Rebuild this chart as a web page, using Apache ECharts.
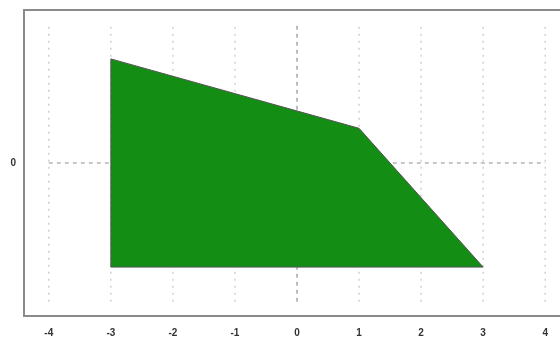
<!DOCTYPE html>
<html>
<head>
<meta charset="utf-8">
<script src="https://cdn.jsdelivr.net/npm/echarts@6/dist/echarts.min.js"></script>
<style>html,body{margin:0;padding:0;background:#fff;overflow:hidden;width:560px;height:338px;}#c{width:580px;height:338px;}</style>
</head>
<body>
<div id="c"></div>
<script>
// Polygon vertices
var polyX = [-3, 1, 3, -3];
var polyY = [3, 1, -3, -3];
// Tick labels
var xTicks = [-4, -3, -2, -1, 0, 1, 2, 3, 4];
var yTicks = [0];
// Grid extent
var gridXMin = -4, gridXMax = 4, gridYMin = -4, gridYMax = 4;
// Axis ranges
var xMin = -4.4, xMax = 4.4, yMin = -4.41, yMax = 4.41;

var chart = echarts.init(document.getElementById('c'), null, {renderer: 'canvas'});

var series = [];
xTicks.forEach(function (t) {
  series.push({
    type: 'line', silent: true, symbol: 'none', z: 1,
    data: [[t, gridYMin], [t, gridYMax]],
    lineStyle: t === 0
      ? {color: '#9a9a9a', width: 1.3, type: [4, 4]}
      : {color: '#c4c4c4', width: 1.2, type: [2, 5]}
  });
});
yTicks.forEach(function (t) {
  series.push({
    type: 'line', silent: true, symbol: 'none', z: 1,
    data: [[gridXMin, t], [gridXMax, t]],
    lineStyle: {color: '#aaaaaa', width: 1.3, type: [4, 4]}
  });
});
var polyData = polyX.map(function (x, i) { return [x, polyY[i]]; });
series.push({
  type: 'custom', z: 5, silent: true,
  data: [0],
  renderItem: function (params, api) {
    var pts = polyData.map(function (p) { return api.coord(p); });
    return {
      type: 'polygon',
      shape: {points: pts},
      style: {fill: '#138d13', stroke: '#555', lineWidth: 1}
    };
  }
});

chart.setOption({
  animation: false,
  grid: {left: 24, width: 546, top: 10, height: 306, show: true, borderColor: '#8a8a8a', borderWidth: 2, backgroundColor: '#fff'},
  xAxis: {
    type: 'value', min: xMin, max: xMax,
    axisLine: {show: false}, axisTick: {show: false}, splitLine: {show: false},
    axisLabel: {customValues: xTicks, color: '#333', fontSize: 10, fontWeight: 'bold', fontFamily: 'Liberation Sans, Arial', margin: 12}
  },
  yAxis: {
    type: 'value', min: yMin, max: yMax,
    axisLine: {show: false}, axisTick: {show: false}, splitLine: {show: false},
    axisLabel: {customValues: yTicks, color: '#333', fontSize: 10, fontWeight: 'bold', fontFamily: 'Liberation Sans, Arial', margin: 8}
  },
  series: series
});
</script>
</body>
</html>
